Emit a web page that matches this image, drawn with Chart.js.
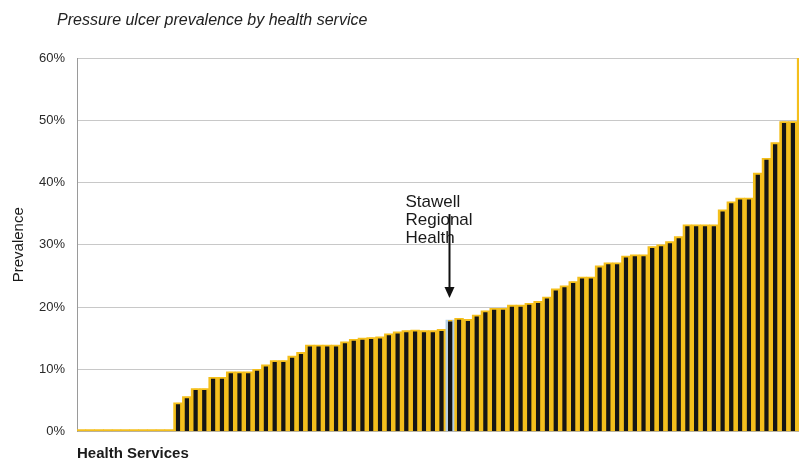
<!DOCTYPE html>
<html>
<head>
<meta charset="utf-8">
<script src="https://cdn.jsdelivr.net/npm/chart.js@4.4.1/dist/chart.umd.min.js"></script>
<style>
  html, body { margin: 0; padding: 0; background: #fff; overflow: hidden; width: 799px; height: 459px; }
  canvas { display: block; }
</style>
</head>
<body>
<canvas id="chart" width="812" height="459"></canvas>
<script>
const chartTitle = 'Pressure ulcer prevalence by health service';
const yAxisTitle = 'Prevalence';
const xAxisTitle = 'Health Services';
const yTicks = [0, 10, 20, 30, 40, 50, 60];

// Prevalence (%) for each health service, sorted from lowest to highest
const prevalence = [
  0, 0, 0, 0, 0, 0, 0, 0, 0, 0, 0,
  4.6, 5.6, 6.9, 6.9, 8.7, 8.7, 9.6, 9.6, 9.6, 10.0,
  10.7, 11.4, 11.4, 12.1, 12.7, 13.9, 13.9, 13.9, 13.9, 14.4,
  14.8, 15.0, 15.1, 15.2, 15.7, 16.0, 16.2, 16.3, 16.2, 16.2,
  16.4, 17.9, 18.2, 18.0, 18.7, 19.4, 19.8, 19.8, 20.3, 20.3,
  20.6, 20.9, 21.6, 22.9, 23.4, 24.1, 24.8, 24.8, 26.6, 27.1,
  27.1, 28.2, 28.4, 28.4, 29.7, 30.0, 30.5, 31.3, 33.2, 33.2,
  33.2, 33.2, 35.6, 36.9, 37.5, 37.5, 41.5, 43.9, 46.4, 49.8,
  49.8, 60.0
];

// Position of the highlighted service in the sorted list
const highlightIndex = 42;
const highlightService = 'Stawell Regional Health';
const highlightLines = ['Stawell', 'Regional', 'Health'];

const services = prevalence.map((_, i) =>
  i === highlightIndex ? highlightService : 'Health service ' + (i + 1));

const GOLD = '#f4bf1c';
const BAR = '#151515';
const HIGHLIGHT_EDGE = '#b4d0e6';
const FONT = '"Liberation Sans", Arial, sans-serif';

// Chart title, callout text and arrow for the highlighted service
const calloutPlugin = {
  id: 'callout',
  afterDraw(chart) {
    const { ctx, scales: { x, y } } = chart;
    ctx.save();
    ctx.fillStyle = '#222';
    ctx.font = 'italic 16px ' + FONT;
    ctx.textBaseline = 'alphabetic';
    ctx.fillText(chartTitle, 57, 25);

    const bx = Math.round(x.getPixelForValue(highlightIndex)) - 0.5;
    const top = y.getPixelForValue(prevalence[highlightIndex]);
    const tip = top - 22;

    ctx.font = '17px ' + FONT;
    ctx.fillStyle = '#1a1a1a';
    highlightLines.forEach((t, i) => ctx.fillText(t, bx - 44, tip - 91 + i * 18));

    ctx.strokeStyle = '#111';
    ctx.lineWidth = 2;
    ctx.beginPath();
    ctx.moveTo(bx, tip - 84);
    ctx.lineTo(bx, tip - 9);
    ctx.stroke();
    ctx.fillStyle = '#111';
    ctx.beginPath();
    ctx.moveTo(bx - 5, tip - 11);
    ctx.lineTo(bx + 5, tip - 11);
    ctx.lineTo(bx, tip);
    ctx.closePath();
    ctx.fill();
    ctx.restore();
  }
};

new Chart(document.getElementById('chart'), {
  type: 'bar',
  data: {
    labels: services,
    datasets: [
      {
        // dark core of each bar, drawn on top
        label: 'Prevalence',
        data: prevalence,
        order: 0,
        backgroundColor: BAR,
        borderColor: GOLD,
        borderWidth: { top: 1.5, left: 0, right: 0, bottom: 0 },
        borderSkipped: 'start',
        barPercentage: 0.52,
        categoryPercentage: 1,
        grouped: false
      },
      {
        // gold edging behind each bar
        label: 'Prevalence edge',
        data: prevalence,
        order: 1,
        backgroundColor: ctx => ctx.dataIndex === highlightIndex ? HIGHLIGHT_EDGE : GOLD,
        borderWidth: 0,
        minBarLength: 2,
        barPercentage: 1,
        categoryPercentage: 1,
        grouped: false
      }
    ]
  },
  options: {
    responsive: false,
    animation: false,
    events: [],
    layout: { padding: { top: 58, right: 6, left: 0, bottom: 0 } },
    plugins: { legend: { display: false }, tooltip: { enabled: false }, title: { display: false } },
    scales: {
      x: {
        grid: { display: false },
        border: { display: true, color: '#b0b0b0' },
        ticks: { display: false },
        title: {
          display: true,
          text: xAxisTitle,
          align: 'start',
          color: '#1a1a1a',
          font: { family: FONT, size: 15, weight: 'bold', lineHeight: 1 },
          padding: { top: 0, bottom: -2.5 }
        },
        afterFit: s => { s.height = 27.5; }
      },
      y: {
        min: 0,
        max: 60,
        afterBuildTicks: s => { s.ticks = yTicks.map(v => ({ value: v })); },
        ticks: {
          callback: v => v + '%',
          color: '#2a2a2a',
          padding: 12,
          font: { family: FONT, size: 13 }
        },
        grid: { color: '#c8c8c8', lineWidth: 1, drawTicks: false },
        border: { display: true, color: '#9a9a9a' },
        title: {
          display: true,
          text: yAxisTitle,
          color: '#1a1a1a',
          font: { family: FONT, size: 15, lineHeight: 1 },
          padding: { top: 11, bottom: 0 }
        },
        afterFit: s => { s.width = 77; }
      }
    }
  },
  plugins: [calloutPlugin]
});
</script>
</body>
</html>
